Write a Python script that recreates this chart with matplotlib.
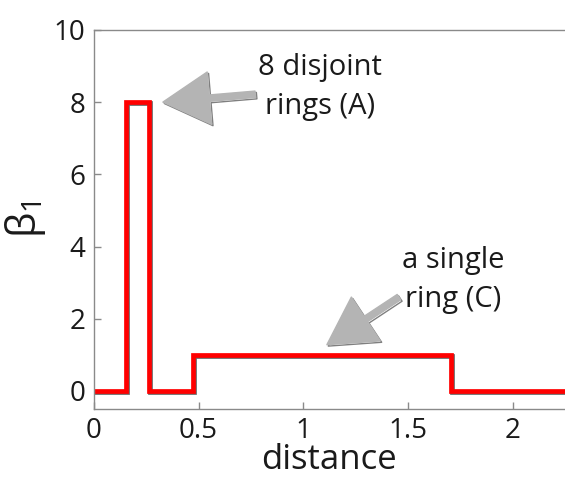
import matplotlib
matplotlib.use('Agg')
import matplotlib.pyplot as plt
import matplotlib.patheffects as pe

plt.rcParams['font.family'] = ['Open Sans', 'DejaVu Sans']
plt.rcParams['mathtext.fontset'] = 'custom'
plt.rcParams['mathtext.rm'] = 'Open Sans'
plt.rcParams['mathtext.it'] = 'Open Sans'

# step curve: number of 1-d holes vs distance
dist = [0.0, 0.155, 0.155, 0.265, 0.265, 0.475, 0.475, 1.705, 1.705, 2.25]
beta1 = [0, 0, 8, 8, 0, 0, 1, 1, 0, 0]

xticks = [0, 0.5, 1, 1.5, 2]
xticklabels = ['0', '0.5', '1', '1.5', '2']
yticks = [0, 2, 4, 6, 8, 10]

fig = plt.figure(figsize=(5.65, 4.82), dpi=100)
ax = fig.add_axes([0.166, 0.1515, 0.834, 0.7865])

ax.plot(dist, beta1, color='#ff0000', lw=3.4, solid_joinstyle='miter',
        path_effects=[pe.SimpleLineShadow(offset=(0.8, -0.8), alpha=0.6),
                      pe.Normal()])

ax.set_xlim(0, 2.25)
ax.set_ylim(-0.5, 10)
ax.set_xticks(xticks)
ax.set_xticklabels(xticklabels)
ax.set_yticks(yticks)

for s in ['left', 'bottom', 'top']:
    ax.spines[s].set_color('#8a8a8a')
    ax.spines[s].set_linewidth(1.0)
ax.spines['right'].set_visible(False)
ax.tick_params(direction='in', length=5, width=1, color='#8a8a8a',
               labelsize=20, labelcolor='#1a1a1a')
ax.tick_params(axis='x', pad=6)
ax.tick_params(axis='y', pad=6)

ax.set_xlabel('distance', fontsize=25, color='#1a1a1a', labelpad=-2)
ax.set_ylabel(r'$\beta_1$', fontsize=29, color='#1a1a1a', labelpad=4)

arrow = dict(arrowstyle='simple,head_length=1.6,head_width=1.8,tail_width=0.22',
             color='#b4b4b4', shrinkA=0, shrinkB=0,
             path_effects=[pe.SimpleLineShadow(offset=(1, -1), alpha=0.5), pe.Normal()])

ax.annotate('8 disjoint\nrings (A)', xy=(0.33, 8.0), xytext=(1.08, 8.42),
            ha='center', va='center', fontsize=21, color='#1a1a1a',
            linespacing=1.45, arrowprops=dict(arrow, relpos=(0.03, 0.4)))
ax.annotate('a single\nring (C)', xy=(1.113, 1.28), xytext=(1.715, 3.08),
            ha='center', va='center', fontsize=21, color='#1a1a1a',
            linespacing=1.45, arrowprops=dict(arrow, relpos=(0.18, 0.45)))

fig.savefig('out.png', dpi=100)
